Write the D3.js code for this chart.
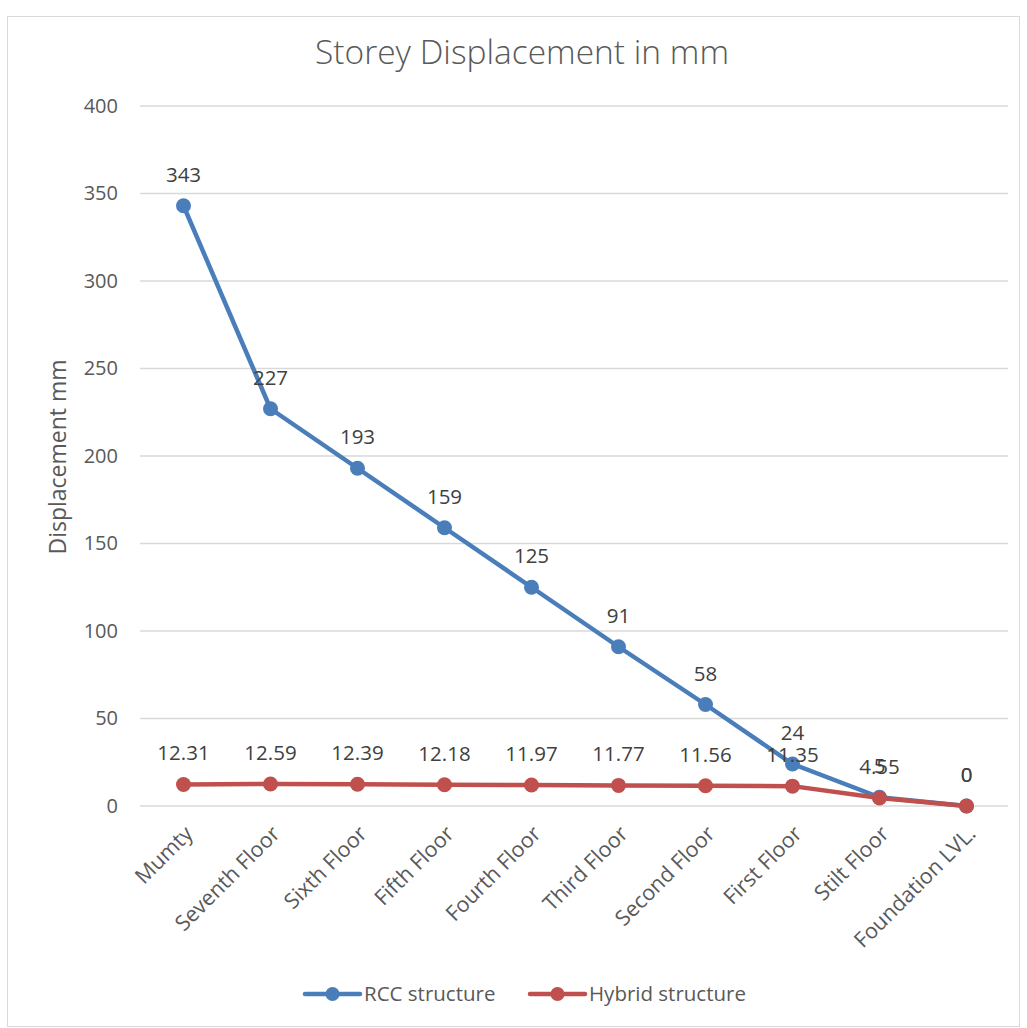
<!DOCTYPE html>
<html>
<head>
<meta charset="utf-8">
<script src="https://cdn.jsdelivr.net/npm/d3@7"></script>
<style>
  body { margin: 0; background: #fff; }
  text { font-family: "Open Sans", "Noto Sans", sans-serif; }
</style>
</head>
<body>
<svg></svg>
<script>
var categories = ["Mumty", "Seventh Floor", "Sixth Floor", "Fifth Floor", "Fourth Floor",
  "Third Floor", "Second Floor", "First Floor", "Stilt Floor", "Foundation LVL."];
var rccValues = [343, 227, 193, 159, 125, 91, 58, 24, 5, 0];
var hybridValues = [12.31, 12.59, 12.39, 12.18, 11.97, 11.77, 11.56, 11.35, 4.55, 0];
var yTicks = [0, 50, 100, 150, 200, 250, 300, 350, 400];

var width = 1027,
  height = 1028;

var svg = d3.select("svg")
  .attr("width", width)
  .attr("height", height);

// chart border
svg.append("rect")
  .attr("x", 7.5)
  .attr("y", 16.5)
  .attr("width", 1012)
  .attr("height", 1010)
  .style("fill", "#fff")
  .style("stroke", "#d9d9d9");

var x = d3.scalePoint()
  .domain(categories)
  .range([140, 1010])
  .padding(0.5);

var y = d3.scaleLinear()
  .domain([0, 400])
  .range([806, 106]);

// gridlines
svg.append("g")
  .selectAll("line")
  .data(yTicks)
  .enter().append("line")
  .attr("x1", 140)
  .attr("x2", 1008)
  .attr("y1", function(d) { return y(d); })
  .attr("y2", function(d) { return y(d); })
  .style("stroke", "#d9d9d9")
  .style("stroke-width", 1.3);

// y axis
var yAxis = svg.append("g")
  .attr("transform", "translate(126,0)")
  .call(d3.axisLeft(y).tickValues(yTicks).tickSize(0).tickPadding(8));
yAxis.select(".domain").remove();
yAxis.selectAll("text")
  .style("font-size", "20px")
  .style("fill", "#595959");

// x axis labels
var xAxis = svg.append("g")
  .attr("transform", "translate(0,806)")
  .call(d3.axisBottom(x).tickSize(0));
xAxis.select(".domain").remove();
xAxis.selectAll("text")
  .style("font-size", "21.5px")
  .style("fill", "#595959")
  .style("text-anchor", "end")
  .attr("dy", null)
  .attr("transform", "translate(8,27) rotate(-45)");

svg.append("text")
  .attr("transform", "translate(66,457) rotate(-90)")
  .attr("text-anchor", "middle")
  .style("font-size", "23px")
  .style("fill", "#595959")
  .text("Displacement mm");

svg.append("text")
  .attr("x", 522)
  .attr("y", 64)
  .attr("text-anchor", "middle")
  .style("font-size", "33.5px")
  .style("font-weight", 300)
  .style("fill", "#595959")
  .text("Storey Displacement in mm");

var series = [
  { name: "RCC structure", values: rccValues, color: "#4a7ebb" },
  { name: "Hybrid structure", values: hybridValues, color: "#c0504d" }
];

var line = d3.line()
  .x(function(d, i) { return x(categories[i]); })
  .y(function(d) { return y(d); });

series.forEach(function(s) {
  svg.append("path")
    .datum(s.values)
    .attr("d", line)
    .style("fill", "none")
    .style("stroke", s.color)
    .style("stroke-width", 4.5)
    .style("stroke-linejoin", "round");

  svg.append("g")
    .selectAll("circle")
    .data(s.values)
    .enter().append("circle")
    .attr("cx", function(d, i) { return x(categories[i]); })
    .attr("cy", function(d) { return y(d); })
    .attr("r", 7.5)
    .style("fill", s.color);
});

series.forEach(function(s) {
  svg.append("g")
    .selectAll("text")
    .data(s.values)
    .enter().append("text")
    .attr("x", function(d, i) { return x(categories[i]); })
    .attr("y", function(d) { return y(d) - 24; })
    .attr("text-anchor", "middle")
    .style("font-size", "20.5px")
    .style("fill", "#404040")
    .text(function(d) { return d; });
});

// legend
var legend = svg.append("g")
  .selectAll("g")
  .data(series)
  .enter().append("g")
  .attr("transform", function(d, i) { return "translate(" + (305 + i * 225) + ",994)"; });
legend.append("line")
  .attr("x1", 0).attr("x2", 55)
  .style("stroke", function(d) { return d.color; })
  .style("stroke-width", 4.5)
  .style("stroke-linecap", "round");
legend.append("circle")
  .attr("cx", 27.5)
  .attr("r", 7)
  .style("fill", function(d) { return d.color; });
legend.append("text")
  .attr("x", 59)
  .attr("dy", "0.35em")
  .style("font-size", "20.5px")
  .style("fill", "#595959")
  .text(function(d) { return d.name; });
</script>
</body>
</html>
